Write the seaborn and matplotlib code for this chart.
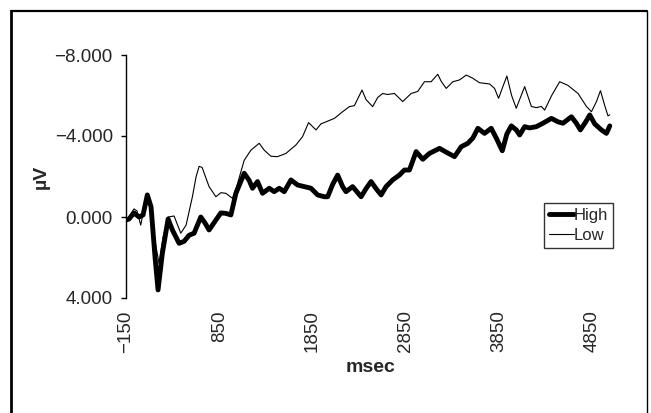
import matplotlib
matplotlib.use("Agg")
import matplotlib.pyplot as plt
from matplotlib.lines import Line2D
import numpy as np
import pandas as pd
import seaborn as sns

# Grand-average ERP waveforms (msec, microvolts) for the two groups
high_ms = [-150, -118, -64, -10, 33, 79, 119, 162, 194, 240, 302, 348, 420, 474, 528,
           581, 653, 699, 742, 815, 868, 922, 976, 1030, 1119, 1173, 1208, 1262, 1316,
           1388, 1441, 1495, 1549, 1621, 1692, 1764, 1836, 1907, 1979, 2015, 2068, 2122,
           2176, 2212, 2283, 2374, 2427, 2481, 2535, 2589, 2642, 2713, 2785, 2839, 2893,
           2965, 3036, 3108, 3216, 3288, 3377, 3449, 3520, 3574, 3628, 3699, 3771, 3825,
           3890, 3939, 3987, 4040, 4076, 4130, 4183, 4255, 4326, 4417, 4488, 4541, 4632,
           4685, 4728, 4786, 4829, 4882, 4954, 5008, 5044]
high_uv = [0.15, 0.1, -0.2, 0.0, -0.1, -1.09, -0.5, 2.0, 3.6, 1.8, 0.1, 0.64, 1.3, 1.2,
           0.9, 0.8, 0.0, 0.3, 0.64, 0.15, -0.2, -0.18, -0.1, -1.17, -2.16, -1.8, -1.42,
           -1.75, -1.17, -1.42, -1.25, -1.42, -1.25, -1.83, -1.58, -1.5, -1.42, -1.09,
           -1.0, -1.0, -1.6, -2.07, -1.5, -1.25, -1.5, -1.0, -1.4, -1.75, -1.4, -1.09,
           -1.5, -1.83, -2.07, -2.32, -2.32, -3.23, -2.85, -3.14, -3.39, -3.2, -2.98,
           -3.47, -3.64, -3.9, -4.38, -4.13, -4.38, -3.9, -3.27, -4.1, -4.5, -4.3, -4.05,
           -4.46, -4.4, -4.46, -4.63, -4.87, -4.7, -4.63, -4.95, -4.63, -4.3, -4.7,
           -5.04, -4.6, -4.3, -4.13, -4.5]

low_ms = [-150, -107, -64, -32, 8, 62, 79, 119, 162, 205, 248, 302, 366, 438, 495, 563,
          603, 635, 667, 742, 815, 868, 922, 993, 1044, 1119, 1191, 1280, 1334, 1406,
          1477, 1567, 1675, 1746, 1810, 1890, 1944, 1997, 2087, 2176, 2248, 2302, 2384,
          2427, 2498, 2552, 2606, 2656, 2732, 2821, 2911, 2982, 3054, 3126, 3197, 3234,
          3288, 3359, 3431, 3503, 3574, 3646, 3753, 3807, 3850, 3893, 3939, 3990, 4040,
          4076, 4130, 4202, 4255, 4309, 4345, 4420, 4506, 4595, 4703, 4793, 4847, 4901,
          4944, 4990, 5025, 5044]
low_uv = [0.2, -0.1, -0.4, -0.3, 0.4, -0.84, -1.09, -0.5, 1.2, 2.3, 1.0, 0.0, -0.05,
          0.8, 0.4, -1.0, -2.0, -2.5, -2.45, -1.5, -1.0, -1.2, -1.17, -0.92, -1.6, -2.8,
          -3.3, -3.64, -3.3, -3.0, -2.98, -3.14, -3.56, -3.97, -4.66, -4.3, -4.6, -4.7,
          -4.87, -5.2, -5.45, -5.5, -6.27, -5.8, -5.45, -5.9, -6.1, -6.05, -6.1, -5.7,
          -6.1, -6.2, -6.68, -6.68, -7.05, -6.7, -6.35, -6.68, -6.77, -7.01, -6.85,
          -6.63, -6.57, -6.35, -5.86, -6.4, -6.96, -6.0, -5.37, -5.8, -6.44, -5.46,
          -5.4, -5.46, -5.28, -6.0, -6.68, -6.5, -6.1, -5.46, -5.2, -5.7, -6.24, -5.5,
          -4.99, -5.05]

x_ticks = [-150, 850, 1850, 2850, 3850, 4850]
y_ticks = [-8, -4, 0, 4]

sns.set_theme(style="white")
plt.rcParams["font.family"] = ["Liberation Sans", "DejaVu Sans"]

W, H = 651, 413
fig = plt.figure(figsize=(W / 100, H / 100), dpi=100)
ax = fig.add_axes([126 / W, 1 - 298 / H, (615 - 126) / W, (298 - 55) / H])

high_df = pd.DataFrame({"msec": high_ms, "uV": high_uv})
low_df = pd.DataFrame({"msec": low_ms, "uV": low_uv})

sns.lineplot(data=high_df, x="msec", y="uV", ax=ax, color="black", linewidth=3.5,
             sort=False, estimator=None, label="High",
             solid_joinstyle="round", solid_capstyle="round")
sns.lineplot(data=low_df, x="msec", y="uV", ax=ax, color="black", linewidth=0.8,
             sort=False, estimator=None, label="Low",
             solid_joinstyle="round")

ax.set_xlim(-150, 5100)
ax.set_ylim(4, -8)
ax.set_xticks(x_ticks)
ax.set_xticklabels([str(t).replace("-", "\u2212") for t in x_ticks], rotation=90,
                   fontsize=13.5)
ax.set_yticks(y_ticks)
ax.set_yticklabels([f"{t:.3f}".replace("-", "\u2212") for t in y_ticks], fontsize=13.5)

for side in ("top", "right", "bottom"):
    ax.spines[side].set_visible(False)
ax.spines["left"].set_color("black")
ax.spines["left"].set_linewidth(1.0)
ax.tick_params(axis="y", direction="out", length=3.5, width=1.0, color="black",
               pad=6, left=True)
ax.tick_params(axis="x", length=0, pad=9)

ax.set_xlabel("msec", fontsize=14, fontweight="bold")
ax.set_ylabel("\u00b5V", fontsize=14, fontweight="bold")
ax.xaxis.set_label_coords(0.5, -0.25)
ax.yaxis.set_label_coords(-0.155, 0.5)

leg = ax.legend(loc="upper right", bbox_to_anchor=((613 - 126) / 489, (298 - 203) / 243),
                bbox_transform=ax.transAxes, frameon=True, fancybox=False,
                fontsize=12, handlelength=1.5, handletextpad=0.0, borderpad=0.3,
                labelspacing=0.3, borderaxespad=0.0)
leg.get_frame().set_edgecolor("black")
leg.get_frame().set_linewidth(1.0)
leg.get_frame().set_facecolor("white")

# Figure border
def px_line(x0, y0, x1, y1, lw):
    fig.add_artist(Line2D([x0 / W, x1 / W], [1 - y0 / H, 1 - y1 / H],
                          transform=fig.transFigure, color="black", linewidth=lw))

px_line(11, 10.5, 647, 10.5, 1.6)
px_line(11, 10.5, 11, H + 2, 2.0)
px_line(647, 10.5, 647, H + 2, 1.0)

fig.savefig("out.png", dpi=100, facecolor="white")
